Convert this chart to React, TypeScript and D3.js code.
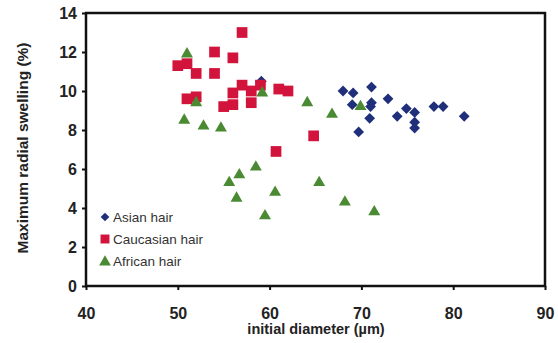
import React from "react";
import * as d3 from "d3";
import { useEffect, useRef } from "react";

// values: [initial diameter, swelling]
const asianX = [59.1, 68, 69.1, 71.1, 72.9, 69, 71.1, 71, 70.9, 69.7, 73.9, 74.9, 75.8, 75.8, 75.8, 77.9, 78.9, 81.2];
const asianY = [10.5, 10.0, 9.9, 10.2, 9.6, 9.3, 9.4, 9.2, 8.6, 7.9, 8.7, 9.1, 8.9, 8.4, 8.1, 9.2, 9.2, 8.7];

const caucX = [50, 51, 51, 52, 52, 54, 54, 55, 56, 56, 56, 57, 57, 58, 58, 59, 61, 62, 60.7, 64.8];
const caucY = [11.3, 11.4, 9.6, 9.7, 10.9, 12.0, 10.9, 9.2, 9.3, 11.7, 9.9, 13.0, 10.3, 9.4, 10.0, 10.3, 10.1, 10.0, 6.9, 7.7];

const afrX = [51, 52, 50.7, 52.8, 54.7, 59.2, 64.1, 66.8, 69.9, 58.5, 55.6, 56.7, 56.4, 59.5, 60.6, 65.4, 68.2, 71.4];
const afrY = [11.9, 9.4, 8.5, 8.2, 8.1, 9.9, 9.4, 8.8, 9.2, 6.1, 5.3, 5.7, 4.5, 3.6, 4.8, 5.3, 4.3, 3.8];

const xTicks = [40, 50, 60, 70, 80, 90];
const yTicks = [0, 2, 4, 6, 8, 10, 12, 14];

const series = [
  { name: "Asian hair", xs: asianX, ys: asianY, color: "#1f2f7a", shape: "diamond" },
  { name: "Caucasian hair", xs: caucX, ys: caucY, color: "#d2143c", shape: "square" },
  { name: "African hair", xs: afrX, ys: afrY, color: "#4a8a32", shape: "triangle" },
];

const font = "Liberation Sans, Arial, sans-serif";

function shapePath(shape) {
  if (shape === "square") return d3.symbol().type(d3.symbolSquare).size(115)();
  if (shape === "triangle") return d3.symbol().type(d3.symbolTriangle).size(62)();
  return d3.symbol().type(d3.symbolSquare).size(58)();
}

function App() {
  const width = 558;
  const height = 343;
  const margin = { top: 13, right: 13, bottom: 57, left: 86 };
  const svgRef = useRef();

  useEffect(() => {
    const svg = d3.select(svgRef.current);
    svg.selectAll("*").remove();

    const xScale = d3.scaleLinear().domain([40, 90]).range([margin.left, width - margin.right]);
    const yScale = d3.scaleLinear().domain([0, 14]).range([height - margin.bottom, margin.top]);

    // frame
    svg.append("rect")
      .attr("x", xScale(40))
      .attr("y", yScale(14))
      .attr("width", xScale(90) - xScale(40))
      .attr("height", yScale(0) - yScale(14))
      .attr("fill", "none")
      .attr("stroke", "#111")
      .attr("stroke-width", 2.5);

    const xAxis = d3.axisBottom(xScale).tickValues(xTicks).tickSize(4).tickSizeOuter(0);
    const gx = svg.append("g")
      .attr("transform", `translate(0,${yScale(0)})`)
      .call(xAxis);
    gx.select(".domain").remove();
    gx.selectAll("line").attr("stroke", "#111").attr("stroke-width", 2);
    gx.selectAll("text")
      .attr("y", 22)
      .attr("font-size", 16)
      .attr("font-weight", "bold")
      .attr("fill", "#222")
      .attr("font-family", font);

    const yAxis = d3.axisLeft(yScale).tickValues(yTicks).tickSize(4).tickSizeOuter(0);
    const gy = svg.append("g")
      .attr("transform", `translate(${xScale(40)},0)`)
      .call(yAxis);
    gy.select(".domain").remove();
    gy.selectAll("line").attr("stroke", "#111").attr("stroke-width", 2);
    gy.selectAll("text")
      .attr("x", -9)
      .attr("font-size", 16)
      .attr("font-weight", "bold")
      .attr("fill", "#222")
      .attr("font-family", font);

    // points
    series.forEach((s) => {
      const d = shapePath(s.shape);
      const rot = s.shape === "diamond" ? " rotate(45)" : "";
      svg.append("g")
        .selectAll("path")
        .data(s.xs.map((x, i) => [x, s.ys[i]]))
        .join("path")
        .attr("d", d)
        .attr("fill", s.color)
        .attr("transform", (p) => `translate(${xScale(p[0])},${yScale(p[1])})${rot}`);
    });

    // legend
    const leg = svg.append("g").attr("transform", "translate(105,217)");
    series.forEach((s, i) => {
      const rot = s.shape === "diamond" ? " rotate(45)" : "";
      const sz = s.shape === "square" ? 80 : s.shape === "triangle" ? 60 : 38;
      const sym = s.shape === "triangle" ? d3.symbolTriangle : d3.symbolSquare;
      leg.append("path")
        .attr("d", d3.symbol().type(sym).size(sz)())
        .attr("fill", s.color)
        .attr("transform", `translate(0,${i * 22 + (s.shape === "triangle" ? 1 : 0)})${rot}`);
      leg.append("text")
        .attr("x", 8)
        .attr("y", i * 22)
        .attr("dy", "0.35em")
        .attr("font-size", 13.5)
        .attr("fill", "#333")
        .attr("font-family", font)
        .text(s.name);
    });

    // axis titles
    svg.append("text")
      .attr("x", 316)
      .attr("y", 334)
      .attr("text-anchor", "middle")
      .attr("font-size", 14.5)
      .attr("font-weight", "bold")
      .attr("fill", "#222")
      .attr("font-family", font)
      .text("initial diameter (µm)");

    svg.append("text")
      .attr("transform", "translate(28,148) rotate(-90)")
      .attr("text-anchor", "middle")
      .attr("font-size", 15.5)
      .attr("font-weight", "bold")
      .attr("fill", "#222")
      .attr("font-family", font)
      .text("Maximum radial swelling (%)");
  }, []);

  return (
    <svg ref={svgRef}
      style={{ position: "absolute", left: 0, top: 0, background: "#fff" }}
      width={width}
      height={height}
    ></svg>
  );
}

export default App;
